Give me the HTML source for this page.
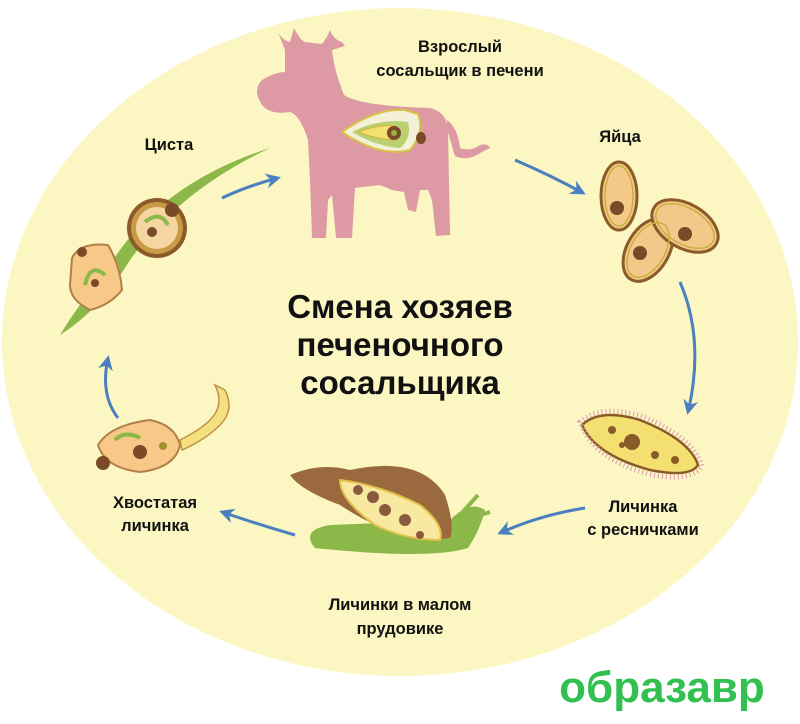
<!DOCTYPE html>
<html><head><meta charset="utf-8"><style>
html,body{margin:0;padding:0;background:#fff;width:800px;height:724px;overflow:hidden}
svg{display:block}
text{font-family:"Liberation Sans","DejaVu Sans",sans-serif;fill:#111}
</style></head><body>
<svg width="800" height="724" viewBox="0 0 800 724" xmlns="http://www.w3.org/2000/svg">
<defs><marker id="ah" viewBox="0 0 10 10" refX="8" refY="5" markerWidth="5" markerHeight="5" orient="auto"><path d="M0,0 L10,5 L0,10 L3,5 Z" fill="#4a7fc0"/></marker></defs>
<ellipse cx="400" cy="342" rx="398" ry="334" fill="#fbf6c2"/>

<!-- cow -->
<g fill="#dd9aa5">
<path d="M278,32 Q282,40 290,42 L294,28 Q300,40 305,42 L322,44 Q328,36 330,30 Q334,40 342,42 L345,46 L332,50 Q334,70 344,95 Q360,106 430,108 Q447,112 448,130 L450,235 L436,236 L432,200 L428,190 L420,190 L416,212 L408,210 L404,192 L392,190 L380,185 L355,188 L352,238 L336,238 L332,195 L328,200 L326,238 L312,238 L310,180 L308,140 Q300,115 290,112 Q270,115 262,105 Q252,90 262,80 Q275,72 285,72 L285,50 Z"/>
<path d="M447,120 Q458,128 460,148 Q470,152 480,145 Q488,143 490,148 L482,152 Q468,162 455,156 Q450,140 447,128 Z"/>
</g>
<path d="M342,132 Q375,108 405,110 L418,114 Q425,132 410,150 Q380,158 342,132Z" fill="#f4f0d8" stroke="#d8c048" stroke-width="2"/>
<path d="M352,132 Q380,118 408,122 Q412,138 400,148 Q375,146 352,132Z" fill="#b8d070"/>
<path d="M358,132 Q380,124 395,126 L395,140 Q375,139 358,132Z" fill="#f3e070" stroke="#d8b040"/>
<circle cx="394" cy="133" r="7" fill="#7a4a28"/><circle cx="394" cy="133" r="3" fill="#9cb040"/>
<ellipse cx="421" cy="138" rx="5" ry="6" fill="#7a4a28"/>

<!-- grass -->
<path d="M270,148 Q170,180 120,250 Q75,310 60,335 Q100,310 130,260 Q180,190 270,148Z" fill="#8cb84a"/>
<!-- cysts -->
<circle cx="157" cy="228" r="30" fill="#8a5a28"/><circle cx="157" cy="228" r="26" fill="#c89a48"/><circle cx="157" cy="228" r="21" fill="#f5d6a0"/>
<path d="M145,222 Q160,210 168,225" stroke="#8cb84a" stroke-width="4" fill="none"/>
<circle cx="152" cy="232" r="5" fill="#7a4a28"/><circle cx="172" cy="210" r="7" fill="#7a4a28"/>
<path d="M72,258 Q80,242 108,245 Q120,265 122,290 Q110,305 90,310 Q70,300 70,285Z" fill="#f8c888" stroke="#b08048" stroke-width="2"/>
<path d="M85,285 Q90,262 105,275" stroke="#8cb84a" stroke-width="4" fill="none"/>
<circle cx="82" cy="252" r="5" fill="#7a4a28"/><circle cx="95" cy="283" r="4" fill="#7a4a28"/>

<!-- eggs -->
<g stroke="#8a5a28" stroke-width="3" fill="#f4c888">
<ellipse cx="619" cy="196" rx="18" ry="34"/>
<ellipse cx="648" cy="250" rx="21" ry="34" transform="rotate(30 648 250)"/>
<ellipse cx="685" cy="226" rx="22" ry="36" transform="rotate(-60 685 226)"/>
</g>
<g fill="none" stroke="#c8b040" stroke-width="1.5">
<ellipse cx="619" cy="196" rx="14" ry="30"/>
<ellipse cx="648" cy="250" rx="17" ry="30" transform="rotate(30 648 250)"/>
<ellipse cx="685" cy="226" rx="18" ry="32" transform="rotate(-60 685 226)"/>
</g>
<circle cx="617" cy="208" r="7" fill="#7a4a28"/><circle cx="640" cy="253" r="7" fill="#7a4a28"/><circle cx="685" cy="234" r="7" fill="#7a4a28"/>

<!-- ciliated larva -->
<path d="M582,425 Q600,408 640,420 Q690,440 698,465 Q690,478 650,470 Q595,455 582,425Z" fill="#f3e070" stroke="#8a5a28" stroke-width="2.5"/>
<path d="M580,422 Q600,404 642,416 Q694,438 702,466 Q690,483 648,474 Q592,458 580,422Z" stroke="#d89ab0" stroke-width="5" stroke-dasharray="1 3" fill="none"/>
<circle cx="632" cy="442" r="8" fill="#8a5a28"/><circle cx="612" cy="430" r="4" fill="#8a5a28"/><circle cx="622" cy="445" r="3" fill="#8a5a28"/><circle cx="655" cy="455" r="4" fill="#8a5a28"/><circle cx="675" cy="460" r="4" fill="#8a5a28"/>

<!-- snail -->
<path d="M315,548 Q300,530 330,525 L450,520 Q470,500 485,510 Q480,530 468,548 Q430,560 315,548Z" fill="#8cb84a"/>
<path d="M290,475 Q320,462 350,470 Q420,455 445,495 Q455,525 450,538 Q400,545 340,505 Q300,490 290,475Z" fill="#9a6a3e"/>
<path d="M340,480 Q380,485 420,505 Q445,525 440,540 Q405,540 375,525 Q340,500 340,480Z" fill="#f8e8a0" stroke="#e0c048" stroke-width="2"/>
<circle cx="358" cy="490" r="5" fill="#8a5a3e"/><circle cx="373" cy="497" r="6" fill="#8a5a3e"/><circle cx="385" cy="510" r="6" fill="#8a5a3e"/><circle cx="405" cy="520" r="6" fill="#8a5a3e"/><circle cx="420" cy="535" r="4" fill="#8a5a3e"/>
<path d="M460,515 L478,495 M465,520 L490,512" stroke="#8cb84a" stroke-width="4"/>

<!-- cercaria -->
<path d="M98,445 Q110,425 150,420 Q175,425 180,445 Q175,468 140,472 Q105,468 98,445Z" fill="#f8c888" stroke="#b08048" stroke-width="2"/>
<path d="M180,440 Q200,430 210,420 Q225,405 215,385 L225,390 Q235,410 220,425 Q205,440 182,450Z" fill="#f5e080" stroke="#c09048" stroke-width="1.5"/>
<path d="M115,440 Q125,430 140,438" stroke="#8cb84a" stroke-width="4" fill="none"/>
<circle cx="140" cy="452" r="7" fill="#7a4a28"/><circle cx="103" cy="463" r="7" fill="#7a4a28"/><circle cx="163" cy="446" r="4" fill="#a09030"/>

<!-- arrows -->
<g stroke="#4a7fc0" stroke-width="3" fill="none" marker-end="url(#ah)">
<path d="M222,198 Q250,185 278,178"/>
<path d="M515,160 Q550,175 583,193"/>
<path d="M680,282 Q705,340 688,412"/>
<path d="M585,508 Q540,515 500,533"/>
<path d="M295,535 Q260,525 222,512"/>
<path d="M118,418 Q100,395 108,358"/>
</g>

<g font-size="16.5" text-anchor="middle" style="font-weight:600">
<text x="460" y="52">Взрослый</text>
<text x="460" y="76">сосальщик в печени</text>
<text x="169" y="150">Циста</text>
<text x="620" y="142">Яйца</text>
<text x="643" y="512">Личинка</text>
<text x="643" y="535">с ресничками</text>
<text x="155" y="508">Хвостатая</text>
<text x="155" y="531">личинка</text>
<text x="400" y="610">Личинки в малом</text>
<text x="400" y="634">прудовике</text>
</g>
<text x="400" y="318" font-size="33" font-weight="bold" text-anchor="middle">Смена хозяев</text>
<text x="400" y="356" font-size="33" font-weight="bold" text-anchor="middle">печеночного</text>
<text x="400" y="394" font-size="33" font-weight="bold" text-anchor="middle">сосальщика</text>
<text x="662" y="702" font-size="44" font-weight="bold" text-anchor="middle" style="fill:#32c050">образавр</text>
</svg>
</body></html>
